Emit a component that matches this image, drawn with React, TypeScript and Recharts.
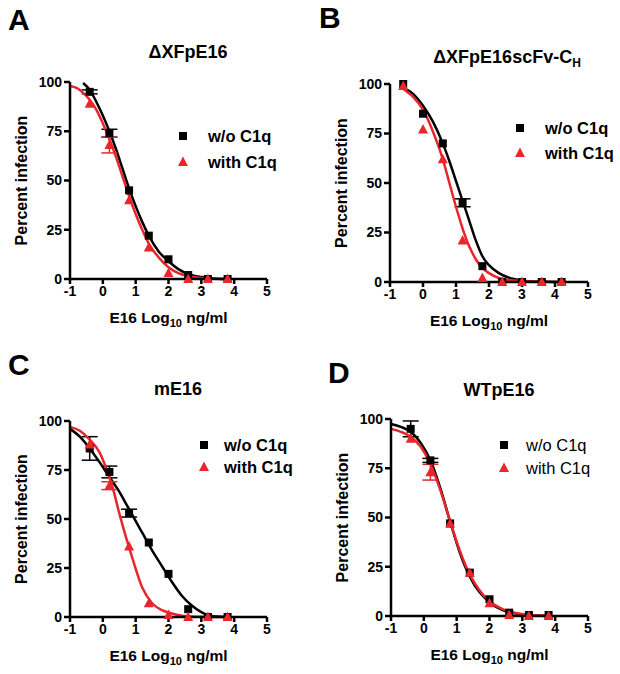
import React from 'react';
import { ComposedChart, Line, Scatter, XAxis, YAxis, ErrorBar, Legend } from 'recharts';

const FONT = '"Liberation Sans", Arial, Helvetica, sans-serif';
const RED = '#e8262b';

const xTicks = [-1, 0, 1, 2, 3, 4, 5];
const yTicks = [0, 25, 50, 75, 100];
const legendLabels = ['w/o C1q', 'with C1q'];

// panel A: ΔXFpE16
const doseA = [-0.4, 0.2, 0.8, 1.4, 2.0, 2.6, 3.2, 3.8];
const blackA = [95, 74, 45, 22, 10, 2, 0, 0];
const blackErrA = [1, 2, null, null, null, null, null, null];
const redA = [89, 68, 40, 16, 3, 0, 0, 0];
const redErrA = [null, 4, null, null, null, null, null, null];
const fitXA = [-1, -0.8, -0.6, -0.4, -0.2, 0, 0.2, 0.4, 0.6, 0.8, 1.0, 1.2, 1.4, 1.7, 2.0, 2.3, 2.6, 3.0, 3.4, 3.8];
const fitBlackA = [null, null, 99.5, 96, 90, 83, 75, 66, 56, 46, 37, 29, 22, 14, 9, 5, 2.5, 1, 0.3, 0];
const fitRedA = [98, 97, 94.5, 91, 86, 79, 71, 62, 52, 42, 33, 25, 18, 11, 6, 3, 1.5, 0.5, 0.1, 0];

// panel B: ΔXFpE16scFv-CH
const doseB = [-0.6, 0, 0.6, 1.2, 1.8, 2.4, 3.0, 3.6, 4.2];
const blackB = [100, 85, 70, 40, 8, 0, 0, 0, 0];
const blackErrB = [null, null, null, 2, null, null, null, null, null];
const redB = [99, 77, 62, 21, 2, 0, 0, 0, 0];
const redErrB = [null, null, null, null, null, null, null, null, null];
const fitXB = [-0.6, -0.3, 0, 0.3, 0.6, 0.8, 1.0, 1.2, 1.4, 1.6, 1.8, 2.0, 2.3, 2.6, 3.0, 3.5, 4.2];
const fitBlackB = [98, 95, 89, 81, 70, 61, 51, 41, 31, 21, 13, 8.5, 4.5, 2.2, 0.8, 0.2, 0];
const fitRedB = [97.5, 93.5, 87, 76, 62, 50, 38, 27, 18, 11.5, 7, 4.5, 2, 1, 0.4, 0.1, 0];

// panel C: mE16
const doseC = [-0.4, 0.2, 0.8, 1.4, 2.0, 2.6, 3.2, 3.8];
const blackC = [86, 74, 53, 38, 22, 4, 0, 0];
const blackErrC = [6, 3, 2, null, null, null, null, null];
const redC = [88, 67, 36, 7, 1, 0, 0, 0];
const redErrC = [null, 2, null, null, null, null, null, null];
const fitXC = [-1, -0.7, -0.4, -0.1, 0.1, 0.3, 0.5, 0.7, 0.9, 1.2, 1.5, 1.8, 2.1, 2.4, 2.7, 3.0, 3.3, 3.8];
const fitBlackC = [96, 92, 86, 79, 74, 69, 64, 58, 52, 43, 34, 26, 18, 11, 6, 2.5, 0.5, 0];
const fitRedC = [97, 95, 90.5, 84, 76, 66, 53, 41, 30, 15, 7, 3.5, 1.8, 0.7, 0.3, 0.1, 0, 0];

// panel D: WTpE16
const doseD = [-0.4, 0.2, 0.8, 1.4, 2.0, 2.6, 3.2, 3.8];
const blackD = [95, 79, 47, 22, 8.5, 1.7, 0.5, 0.5];
const blackErrD = [4, 1, null, null, null, null, null, null];
const redD = [90, 73, 47, 22, 6.5, 0.5, 0, 0];
const redErrD = [null, 4, null, null, null, null, null, null];
const fitXD = [-1, -0.7, -0.4, -0.1, 0.2, 0.5, 0.8, 1.1, 1.4, 1.7, 2.0, 2.4, 2.8, 3.2, 3.8];
const fitBlackD = [97.5, 96, 93.5, 88, 79, 65, 48, 32, 20, 12, 7, 3, 1.2, 0.5, 0];
const fitRedD = [95, 93.5, 91, 86, 77, 64, 48, 33, 21, 13, 7.5, 3.5, 1.5, 0.5, 0];

const pts = (xs: number[], ys: number[], errs: (number | null)[]) =>
  xs.map((x, i) => ({ x, y: ys[i], err: errs[i] }));
const fit = (xs: number[], ys: (number | null)[]) => xs.map((x, i) => ({ x, y: ys[i] }));

const Square = (p: any) => <rect x={p.cx - 4} y={p.cy - 4} width={8} height={8} fill="#000" />;
const Tri = (p: any) => (
  <polygon points={`${p.cx},${p.cy - 5.5} ${p.cx - 5},${p.cy + 4} ${p.cx + 5},${p.cy + 4}`} fill={RED} />
);

const tickStyle = { fill: '#000', fontSize: 14, fontWeight: 'bold', fontFamily: FONT };
const axisLine = { stroke: '#000', strokeWidth: 2.5 };

interface LegendSpec { x: number; y: number; gap: number; dy: number; bold: boolean }

interface PanelProps {
  ox: number; oy: number;
  margin: { top: number; right: number; bottom: number; left: number };
  dose: number[]; black: number[]; blackErr: (number | null)[]; red: number[]; redErr: (number | null)[];
  fitX: number[]; fitBlack: (number | null)[]; fitRed: number[];
  legend: LegendSpec;
}

function Panel(p: PanelProps) {
  const lg = p.legend;
  const renderLegend = () => (
    <svg width={120} height={lg.dy * 2 + 4} style={{ display: 'block', overflow: 'visible' }}>
      {legendLabels.map((label, i) => {
        const cy = 10 + i * lg.dy;
        return (
          <g key={label}>
            {i === 0 ? <Square cx={6} cy={cy} /> : <Tri cx={6} cy={cy} />}
            <text x={6 + lg.gap} y={cy + 6} fontSize={16.5} fontFamily={FONT}
              fontWeight={lg.bold ? 'bold' : 'normal'} fill="#000">{label}</text>
          </g>
        );
      })}
    </svg>
  );
  return (
    <div style={{ position: 'absolute', left: p.ox, top: p.oy }}>
      <ComposedChart width={310} height={337} margin={p.margin}>
        <XAxis type="number" dataKey="x" domain={[-1, 5]} ticks={xTicks} height={30}
          tick={tickStyle} axisLine={axisLine} tickLine={axisLine} tickSize={5} />
        <YAxis type="number" dataKey="y" domain={[0, 100]} ticks={yTicks} width={60}
          tick={tickStyle} axisLine={axisLine} tickLine={axisLine} tickSize={6} />
        <Legend layout="vertical" align="center" verticalAlign="middle" content={renderLegend}
          wrapperStyle={{ left: lg.x - 6 - p.ox, top: lg.y - 10 - p.oy, width: 120 }} />
        <Line data={fit(p.fitX, p.fitBlack)} dataKey="y" type="monotone" stroke="#000" strokeWidth={2.5}
          dot={false} isAnimationActive={false} legendType="none" />
        <Scatter data={pts(p.dose, p.black, p.blackErr)} dataKey="y" shape={Square} isAnimationActive={false}>
          <ErrorBar dataKey="err" direction="y" width={8} stroke="#000" strokeWidth={1.5} />
        </Scatter>
        <Line data={fit(p.fitX, p.fitRed)} dataKey="y" type="monotone" stroke={RED} strokeWidth={2.5}
          dot={false} isAnimationActive={false} legendType="none" />
        <Scatter data={pts(p.dose, p.red, p.redErr)} dataKey="y" shape={Tri} isAnimationActive={false}>
          <ErrorBar dataKey="err" direction="y" width={8} stroke={RED} strokeWidth={1.5} />
        </Scatter>
      </ComposedChart>
    </div>
  );
}

const XLabel = ({ x, y }: { x: number; y: number }) => (
  <text x={x} y={y} textAnchor="middle" fontSize={15.5} fontWeight="bold" fontFamily={FONT}>
    E16 Log<tspan fontSize={11} dy={4}>10</tspan><tspan dy={-4}> ng/ml</tspan>
  </text>
);
const YLabel = ({ x, y }: { x: number; y: number }) => (
  <text x={x} y={y} transform={`rotate(-90 ${x} ${y})`} textAnchor="middle" fontSize={16}
    fontWeight="bold" fontFamily={FONT}>Percent infection</text>
);

export default function App() {
  return (
    <div style={{ position: 'absolute', left: 0, top: 0, width: 620, height: 674, background: '#fff' }}>
      <Panel ox={0} oy={0} margin={{ top: 82, right: 43, bottom: 28, left: 10 }}
        dose={doseA} black={blackA} blackErr={blackErrA} red={redA} redErr={redErrA}
        fitX={fitXA} fitBlack={fitBlackA} fitRed={fitRedA}
        legend={{ x: 183, y: 136, gap: 25, dy: 26, bold: true }} />
      <Panel ox={310} oy={0} margin={{ top: 84, right: 32, bottom: 25, left: 20 }}
        dose={doseB} black={blackB} blackErr={blackErrB} red={redB} redErr={redErrB}
        fitX={fitXB} fitBlack={fitBlackB} fitRed={fitRedB}
        legend={{ x: 520, y: 128, gap: 25, dy: 25, bold: true }} />
      <Panel ox={0} oy={337} margin={{ top: 84, right: 43, bottom: 27, left: 10 }}
        dose={doseC} black={blackC} blackErr={blackErrC} red={redC} redErr={redErrC}
        fitX={fitXC} fitBlack={fitBlackC} fitRed={fitRedC}
        legend={{ x: 204, y: 445, gap: 20, dy: 22, bold: true }} />
      <Panel ox={310} oy={337} margin={{ top: 82, right: 32, bottom: 28, left: 21 }}
        dose={doseD} black={blackD} blackErr={blackErrD} red={redD} redErr={redErrD}
        fitX={fitXD} fitBlack={fitBlackD} fitRed={fitRedD}
        legend={{ x: 504, y: 445, gap: 22, dy: 23, bold: false }} />
      <svg width={620} height={674} style={{ position: 'absolute', left: 0, top: 0, pointerEvents: 'none' }}>
        <g fontFamily={FONT} fontWeight="bold" fill="#000">
          <text x={8} y={30} fontSize={30}>A</text>
          <text x={319} y={28} fontSize={30}>B</text>
          <text x={8} y={375} fontSize={30}>C</text>
          <text x={328} y={383} fontSize={30}>D</text>
          <text x={188} y={58} fontSize={18} textAnchor="middle">ΔXFpE16</text>
          <text x={507} y={63} fontSize={18} textAnchor="middle">
            ΔXFpE16scFv-C<tspan fontSize={12} dy={4}>H</tspan>
          </text>
          <text x={178} y={395} fontSize={18} textAnchor="middle">mE16</text>
          <text x={499} y={396} fontSize={18} textAnchor="middle">WTpE16</text>
        </g>
        <XLabel x={168.5} y={323} />
        <XLabel x={489} y={326} />
        <XLabel x={168.5} y={661} />
        <XLabel x={489.5} y={660} />
        <YLabel x={27} y={180.5} />
        <YLabel x={347} y={183} />
        <YLabel x={27} y={519} />
        <YLabel x={348} y={517.5} />
      </svg>
    </div>
  );
}
